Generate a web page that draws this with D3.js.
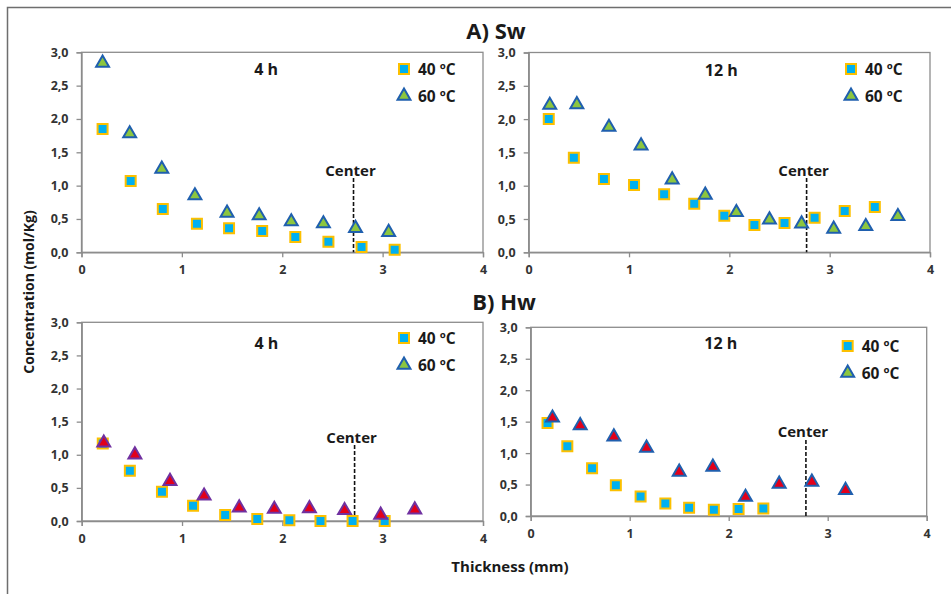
<!DOCTYPE html>
<html>
<head>
<meta charset="utf-8">
<script src="https://cdn.jsdelivr.net/npm/d3@7"></script>
<style>
  body { margin: 0; background: #fff; }
  text { font-family: "Open Sans", Lato, sans-serif; }
</style>
</head>
<body>
<div class="div-chart"></div>
<script>
// values (thickness in mm, concentration in mol/Kg)
const xTicks = [0, 1, 2, 3, 4];
const yTicks = [0, 0.5, 1, 1.5, 2, 2.5, 3];
const seriesNames = ["40 ºC", "60 ºC"];
const panelLabels = ["4 h", "12 h", "4 h", "12 h"];
const groupTitles = ["A) Sw", "B) Hw"];
const centerX = [2.71, 2.77, 2.72, 2.78];

// A) Sw, 4 h
const sw4x40 = [0.21, 0.49, 0.81, 1.15, 1.47, 1.80, 2.13, 2.46, 2.79, 3.12];
const sw4y40 = [1.85, 1.07, 0.65, 0.43, 0.36, 0.32, 0.23, 0.16, 0.08, 0.04];
const sw4x60 = [0.21, 0.48, 0.80, 1.13, 1.45, 1.77, 2.09, 2.41, 2.73, 3.06];
const sw4y60 = [2.84, 1.78, 1.25, 0.85, 0.59, 0.55, 0.46, 0.43, 0.36, 0.30];

// A) Sw, 12 h
const sw12x40 = [0.20, 0.45, 0.75, 1.05, 1.35, 1.65, 1.95, 2.25, 2.55, 2.85, 3.15, 3.45];
const sw12y40 = [2.00, 1.42, 1.10, 1.01, 0.87, 0.73, 0.55, 0.41, 0.44, 0.52, 0.62, 0.68];
const sw12x60 = [0.21, 0.48, 0.80, 1.12, 1.43, 1.76, 2.07, 2.40, 2.72, 3.04, 3.36, 3.68];
const sw12y60 = [2.21, 2.22, 1.88, 1.60, 1.09, 0.86, 0.60, 0.49, 0.43, 0.35, 0.39, 0.54];

// B) Hw, 4 h
const hw4x40 = [0.21, 0.48, 0.80, 1.11, 1.43, 1.75, 2.07, 2.38, 2.70, 3.02];
const hw4y40 = [1.17, 0.76, 0.44, 0.23, 0.09, 0.03, 0.01, 0.00, 0.00, 0.00];
const hw4x60 = [0.22, 0.53, 0.88, 1.22, 1.57, 1.92, 2.27, 2.62, 2.98, 3.32];
const hw4y60 = [1.18, 1.00, 0.60, 0.38, 0.20, 0.18, 0.19, 0.16, 0.09, 0.17];

// B) Hw, 12 h
const hw12x40 = [0.17, 0.37, 0.62, 0.86, 1.11, 1.36, 1.60, 1.85, 2.10, 2.35];
const hw12y40 = [1.48, 1.11, 0.76, 0.49, 0.31, 0.20, 0.13, 0.10, 0.11, 0.12];
const hw12x60 = [0.22, 0.50, 0.84, 1.17, 1.50, 1.84, 2.17, 2.51, 2.84, 3.18];
const hw12y60 = [1.56, 1.44, 1.26, 1.08, 0.70, 0.78, 0.30, 0.51, 0.54, 0.41];

const width = 951,
  height = 594;

const svg = d3
  .select(".div-chart")
  .append("svg")
  .attr("width", width)
  .attr("height", height);

// outer frame (only top and left edges are visible in the figure)
svg.append("path")
  .attr("d", `M7.5,${height} V7.5 H${width}`)
  .attr("fill", "none")
  .attr("stroke", "#6e6e6e")
  .attr("stroke-width", 1.5);

const zip = (xs, ys) => xs.map((x, i) => ({ x: x, y: ys[i] }));

// plot box of each panel, plus marker style for the 60 ºC triangles
const panels = [
  { box: [81.5, 483, 52.3, 252.3], s40: zip(sw4x40, sw4y40), s60: zip(sw4x60, sw4y60),
    triFill: "#8cc63f", triStroke: "#1f5fae", legY: 69, labelY: 69, centerTop: 178, centerTextY: 170 },
  { box: [528.7, 930, 52.5, 252.3], s40: zip(sw12x40, sw12y40), s60: zip(sw12x60, sw12y60),
    triFill: "#8cc63f", triStroke: "#1f5fae", legY: 69, labelY: 70, centerTop: 178, centerTextY: 170 },
  { box: [81.7, 483, 322.3, 521], s40: zip(hw4x40, hw4y40), s60: zip(hw4x60, hw4y60),
    triFill: "#e2001a", triStroke: "#7030a0", legY: 338, labelY: 343, centerTop: 445, centerTextY: 437 },
  { box: [530.7, 926.7, 327.3, 516], s40: zip(hw12x40, hw12y40), s60: zip(hw12x60, hw12y60),
    triFill: "#e2001a", triStroke: "#1f5fae", legY: 346, labelY: 343, centerTop: 440, centerTextY: 431 },
];

const textColor = "#1a1a1a";
const axisColor = "#8c8c8c";
const fmtY = (d) => d3.format(".1f")(d).replace(".", ",");
const fmtX = d3.format("d");

const squareSym = d3.symbol().type(d3.symbolSquare).size(100);
const triSym = d3.symbol().type(d3.symbolTriangle).size(72);

panels.forEach((p, i) => {
  const [x0, x1, y0, y1] = p.box;
  const x = d3.scaleLinear().domain([0, 4]).range([x0, x1]);
  const y = d3.scaleLinear().domain([0, 3]).range([y1, y0]);

  const g = svg.append("g").attr("class", "panel");

  // plot area border
  g.append("rect")
    .attr("x", x0).attr("y", y0)
    .attr("width", x1 - x0).attr("height", y1 - y0)
    .attr("fill", "none")
    .attr("stroke", axisColor)
    .attr("stroke-width", 1.3);

  const yAxis = g.append("g")
    .attr("transform", `translate(${x0},0)`)
    .call(d3.axisLeft(y).tickValues(yTicks).tickFormat(fmtY).tickSize(5).tickPadding(8));
  const xAxis = g.append("g")
    .attr("transform", `translate(0,${y1})`)
    .call(d3.axisBottom(x).tickValues(xTicks).tickFormat(fmtX).tickSize(5).tickPadding(8));

  [yAxis, xAxis].forEach((ax) => {
    ax.select(".domain").attr("stroke", axisColor).attr("stroke-width", 1.3);
    ax.selectAll(".tick line").attr("stroke", axisColor).attr("stroke-width", 1.3);
    ax.selectAll(".tick text")
      .attr("fill", "#333")
      .attr("font-size", 12.5)
      .attr("font-weight", "bold")
      .attr("font-family", "'Open Sans', sans-serif");
  });

  // center line
  g.append("line")
    .attr("x1", x(centerX[i])).attr("x2", x(centerX[i]))
    .attr("y1", p.centerTop).attr("y2", y1)
    .attr("stroke", "#111")
    .attr("stroke-width", 1.6)
    .attr("stroke-dasharray", "4,2");
  g.append("text")
    .attr("x", x(centerX[i]) - 3)
    .attr("y", p.centerTextY)
    .attr("text-anchor", "middle")
    .attr("dominant-baseline", "central")
    .attr("font-size", 15)
    .attr("font-weight", "bold")
    .attr("fill", textColor)
    .text("Center");

  // panel time label
  g.append("text")
    .attr("x", x0 + (x1 - x0) * (i % 2 === 0 ? 0.46 : 0.48))
    .attr("y", p.labelY)
    .attr("text-anchor", "middle")
    .attr("dominant-baseline", "central")
    .attr("font-size", 16)
    .attr("font-weight", "bold")
    .attr("fill", textColor)
    .text(panelLabels[i]);

  // 40 ºC squares
  g.selectAll(".sq")
    .data(p.s40)
    .join("path")
    .attr("class", "sq")
    .attr("d", squareSym)
    .attr("transform", (d) => `translate(${x(d.x)},${y(d.y)})`)
    .attr("fill", "#00b0f0")
    .attr("stroke", "#fcc000")
    .attr("stroke-width", 2);

  // 60 ºC triangles
  g.selectAll(".tri")
    .data(p.s60)
    .join("path")
    .attr("class", "tri")
    .attr("d", triSym)
    .attr("transform", (d) => `translate(${x(d.x)},${y(d.y)})`)
    .attr("fill", p.triFill)
    .attr("stroke", p.triStroke)
    .attr("stroke-width", 2);

  // legend
  const lx = x1 - 79;
  const leg = g.append("g");
  leg.append("path")
    .attr("d", squareSym)
    .attr("transform", `translate(${lx},${p.legY})`)
    .attr("fill", "#00b0f0").attr("stroke", "#fcc000").attr("stroke-width", 2);
  leg.append("path")
    .attr("d", triSym)
    .attr("transform", `translate(${lx},${p.legY + 27})`)
    .attr("fill", "#8cc63f").attr("stroke", "#1f5fae").attr("stroke-width", 2);
  leg.selectAll("text")
    .data(seriesNames)
    .join("text")
    .attr("x", lx + 14)
    .attr("y", (d, k) => p.legY + k * 27)
    .attr("dominant-baseline", "central")
    .attr("font-size", 15.5)
    .attr("font-weight", "bold")
    .attr("fill", textColor)
    .text((d) => d);
});

// group titles
svg.selectAll(".group-title")
  .data(groupTitles)
  .join("text")
  .attr("class", "group-title")
  .attr("x", (d, k) => (k === 0 ? 496 : 504))
  .attr("y", (d, k) => (k === 0 ? 38.5 : 310))
  .attr("text-anchor", "middle")
  .attr("font-size", 22)
  .attr("font-weight", "bold")
  .attr("fill", textColor)
  .text((d) => d);

// axis titles
svg.append("text")
  .attr("transform", "translate(28,292) rotate(-90)")
  .attr("text-anchor", "middle")
  .attr("dominant-baseline", "central")
  .attr("font-size", 14)
  .attr("font-weight", "bold")
  .attr("fill", textColor)
  .text("Concentration (mol/Kg)");

svg.append("text")
  .attr("x", 510)
  .attr("y", 566)
  .attr("text-anchor", "middle")
  .attr("dominant-baseline", "central")
  .attr("font-size", 15)
  .attr("font-weight", "bold")
  .attr("fill", textColor)
  .text("Thickness (mm)");
</script>
</body>
</html>
